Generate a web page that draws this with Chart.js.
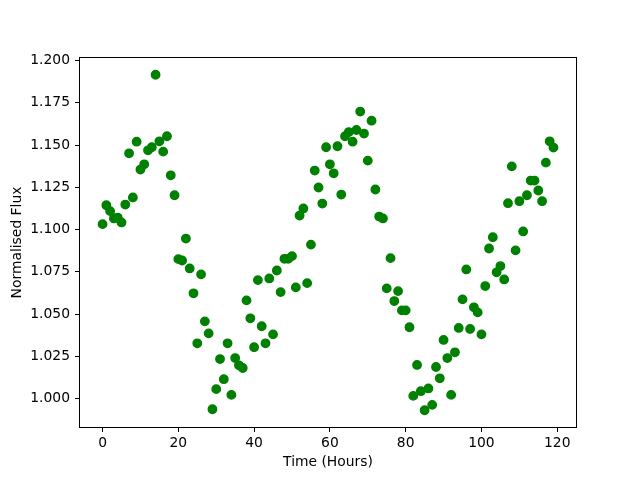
<!DOCTYPE html>
<html>
<head>
<meta charset="utf-8">
<script src="https://cdn.jsdelivr.net/npm/chart.js@4/dist/chart.umd.min.js"></script>
<style>
  html, body { margin: 0; padding: 0; background: #fff; }
  #wrap { width: 640px; height: 480px; }
</style>
</head>
<body>
<div id="wrap"><canvas id="fluxChart" width="640" height="480"></canvas></div>
<script>
// Data
const timeHours = [
  0, 1, 2, 3, 4, 5, 6, 7, 8, 9, 10, 11, 12, 13, 14, 15, 16, 17, 18, 19,
  20, 21, 22, 23, 24, 25, 26, 27, 28, 29, 30, 31, 32, 33, 34, 35, 36, 37, 38, 39,
  40, 41, 42, 43, 44, 45, 46, 47, 48, 49, 50, 51, 52, 53, 54, 55, 56, 57, 58, 59,
  60, 61, 62, 63, 64, 65, 66, 67, 68, 69, 70, 71, 72, 73, 74, 75, 76, 77, 78, 79,
  80, 81, 82, 83, 84, 85, 86, 87, 88, 89, 90, 91, 92, 93, 94, 95, 96, 97, 98, 99,
  100, 101, 102, 103, 104, 105, 106, 107, 108, 109, 110, 111, 112, 113, 114, 115, 116, 117, 118, 119
];

const normalisedFlux = [
  1.1032, 1.1144, 1.1109, 1.1066, 1.1071, 1.1042, 1.1148, 1.1451, 1.1190, 1.1520,
  1.1355, 1.1386, 1.1469, 1.1487, 1.1916, 1.1522, 1.1461, 1.1552, 1.1321, 1.1203,
  1.0825, 1.0817, 1.0947, 1.0770, 1.0623, 1.0327, 1.0735, 1.0457, 1.0386, 0.9937,
  1.0056, 1.0234, 1.0115, 1.0327, 1.0022, 1.0240, 1.0197, 1.0181, 1.0581, 1.0475,
  1.0304, 1.0701, 1.0428, 1.0327, 1.0711, 1.0380, 1.0758, 1.0630, 1.0827, 1.0827,
  1.0843, 1.0658, 1.1083, 1.1125, 1.0683, 1.0911, 1.1349, 1.1249, 1.1154, 1.1487,
  1.1386, 1.1333, 1.1493, 1.1207, 1.1552, 1.1577, 1.1520, 1.1589, 1.1698, 1.1568,
  1.1408, 1.1644, 1.1237, 1.1077, 1.1066, 1.0652, 1.0831, 1.0577, 1.0636, 1.0522,
  1.0522, 1.0422, 1.0016, 1.0199, 1.0044, 0.9931, 1.0060, 0.9963, 1.0187, 1.0120,
  1.0347, 1.0240, 1.0022, 1.0274, 1.0418, 1.0587, 1.0764, 1.0412, 1.0540, 1.0510,
  1.0380, 1.0666, 1.0888, 1.0955, 1.0747, 1.0784, 1.0705, 1.1156, 1.1374, 1.0877,
  1.1168, 1.0989, 1.1203, 1.1290, 1.1290, 1.1231, 1.1168, 1.1396, 1.1522, 1.1485
];

const xTicks = [0, 20, 40, 60, 80, 100, 120];
const yTicks = [1.000, 1.025, 1.050, 1.075, 1.100, 1.125, 1.150, 1.175, 1.200];

// Axis limits (matplotlib style 5% margins)
const xMin = -5.95, xMax = 124.95;
const yMin = 0.9832, yMax = 1.2015;

const fontFamily = '"DejaVu Sans", sans-serif';

// Draws the box round the plot area
const frame = {
  id: 'frame',
  afterDraw(chart) {
    const { ctx, chartArea: a } = chart;
    ctx.save();
    ctx.strokeStyle = '#000';
    ctx.lineWidth = 1;
    ctx.strokeRect(Math.round(a.left) - 0.5, Math.round(a.top) - 0.5,
      Math.round(a.right - a.left) + 1, Math.round(a.bottom - a.top) + 1);
    ctx.restore();
  }
};

const tickGrid = {
  display: true,
  drawOnChartArea: false,
  drawTicks: true,
  tickLength: 5,
  color: '#000',
  lineWidth: 1
};

const ctx = document.getElementById('fluxChart').getContext('2d');
new Chart(ctx, {
  type: 'scatter',
  data: {
    datasets: [{
      data: timeHours.map((t, i) => ({ x: t, y: normalisedFlux[i] })),
      backgroundColor: '#008000',
      borderColor: '#008000',
      borderWidth: 1.4,
      pointRadius: 4.2,
      pointHoverRadius: 4.2
    }]
  },
  options: {
    responsive: false,
    animation: false,
    devicePixelRatio: 1,
    layout: { padding: { left: 0, right: 64, top: 58, bottom: 0 } },
    plugins: {
      legend: { display: false },
      tooltip: { enabled: false }
    },
    scales: {
      x: {
        type: 'linear',
        min: xMin,
        max: xMax,
        afterBuildTicks: scale => { scale.ticks = xTicks.map(v => ({ value: v })); },
        afterFit: scale => { scale.height = 53; },
        grid: tickGrid,
        border: { display: false },
        ticks: {
          color: '#000',
          padding: 3,
          maxRotation: 0,
          font: { family: fontFamily, size: 13.89 }
        },
        title: {
          display: true,
          text: 'Time (Hours)',
          color: '#000',
          padding: { top: 0, bottom: 9 },
          font: { family: fontFamily, size: 13.89 }
        }
      },
      y: {
        type: 'linear',
        min: yMin,
        max: yMax,
        afterBuildTicks: scale => { scale.ticks = yTicks.map(v => ({ value: v })); },
        afterFit: scale => { scale.width = 80; },
        grid: tickGrid,
        border: { display: false },
        ticks: {
          color: '#000',
          padding: 5,
          font: { family: fontFamily, size: 13.89 },
          callback: v => v.toFixed(3)
        },
        title: {
          display: true,
          text: 'Normalised Flux',
          color: '#000',
          padding: { top: 9, bottom: 0 },
          font: { family: fontFamily, size: 13.89 }
        }
      }
    }
  },
  plugins: [frame]
});
</script>
</body>
</html>
